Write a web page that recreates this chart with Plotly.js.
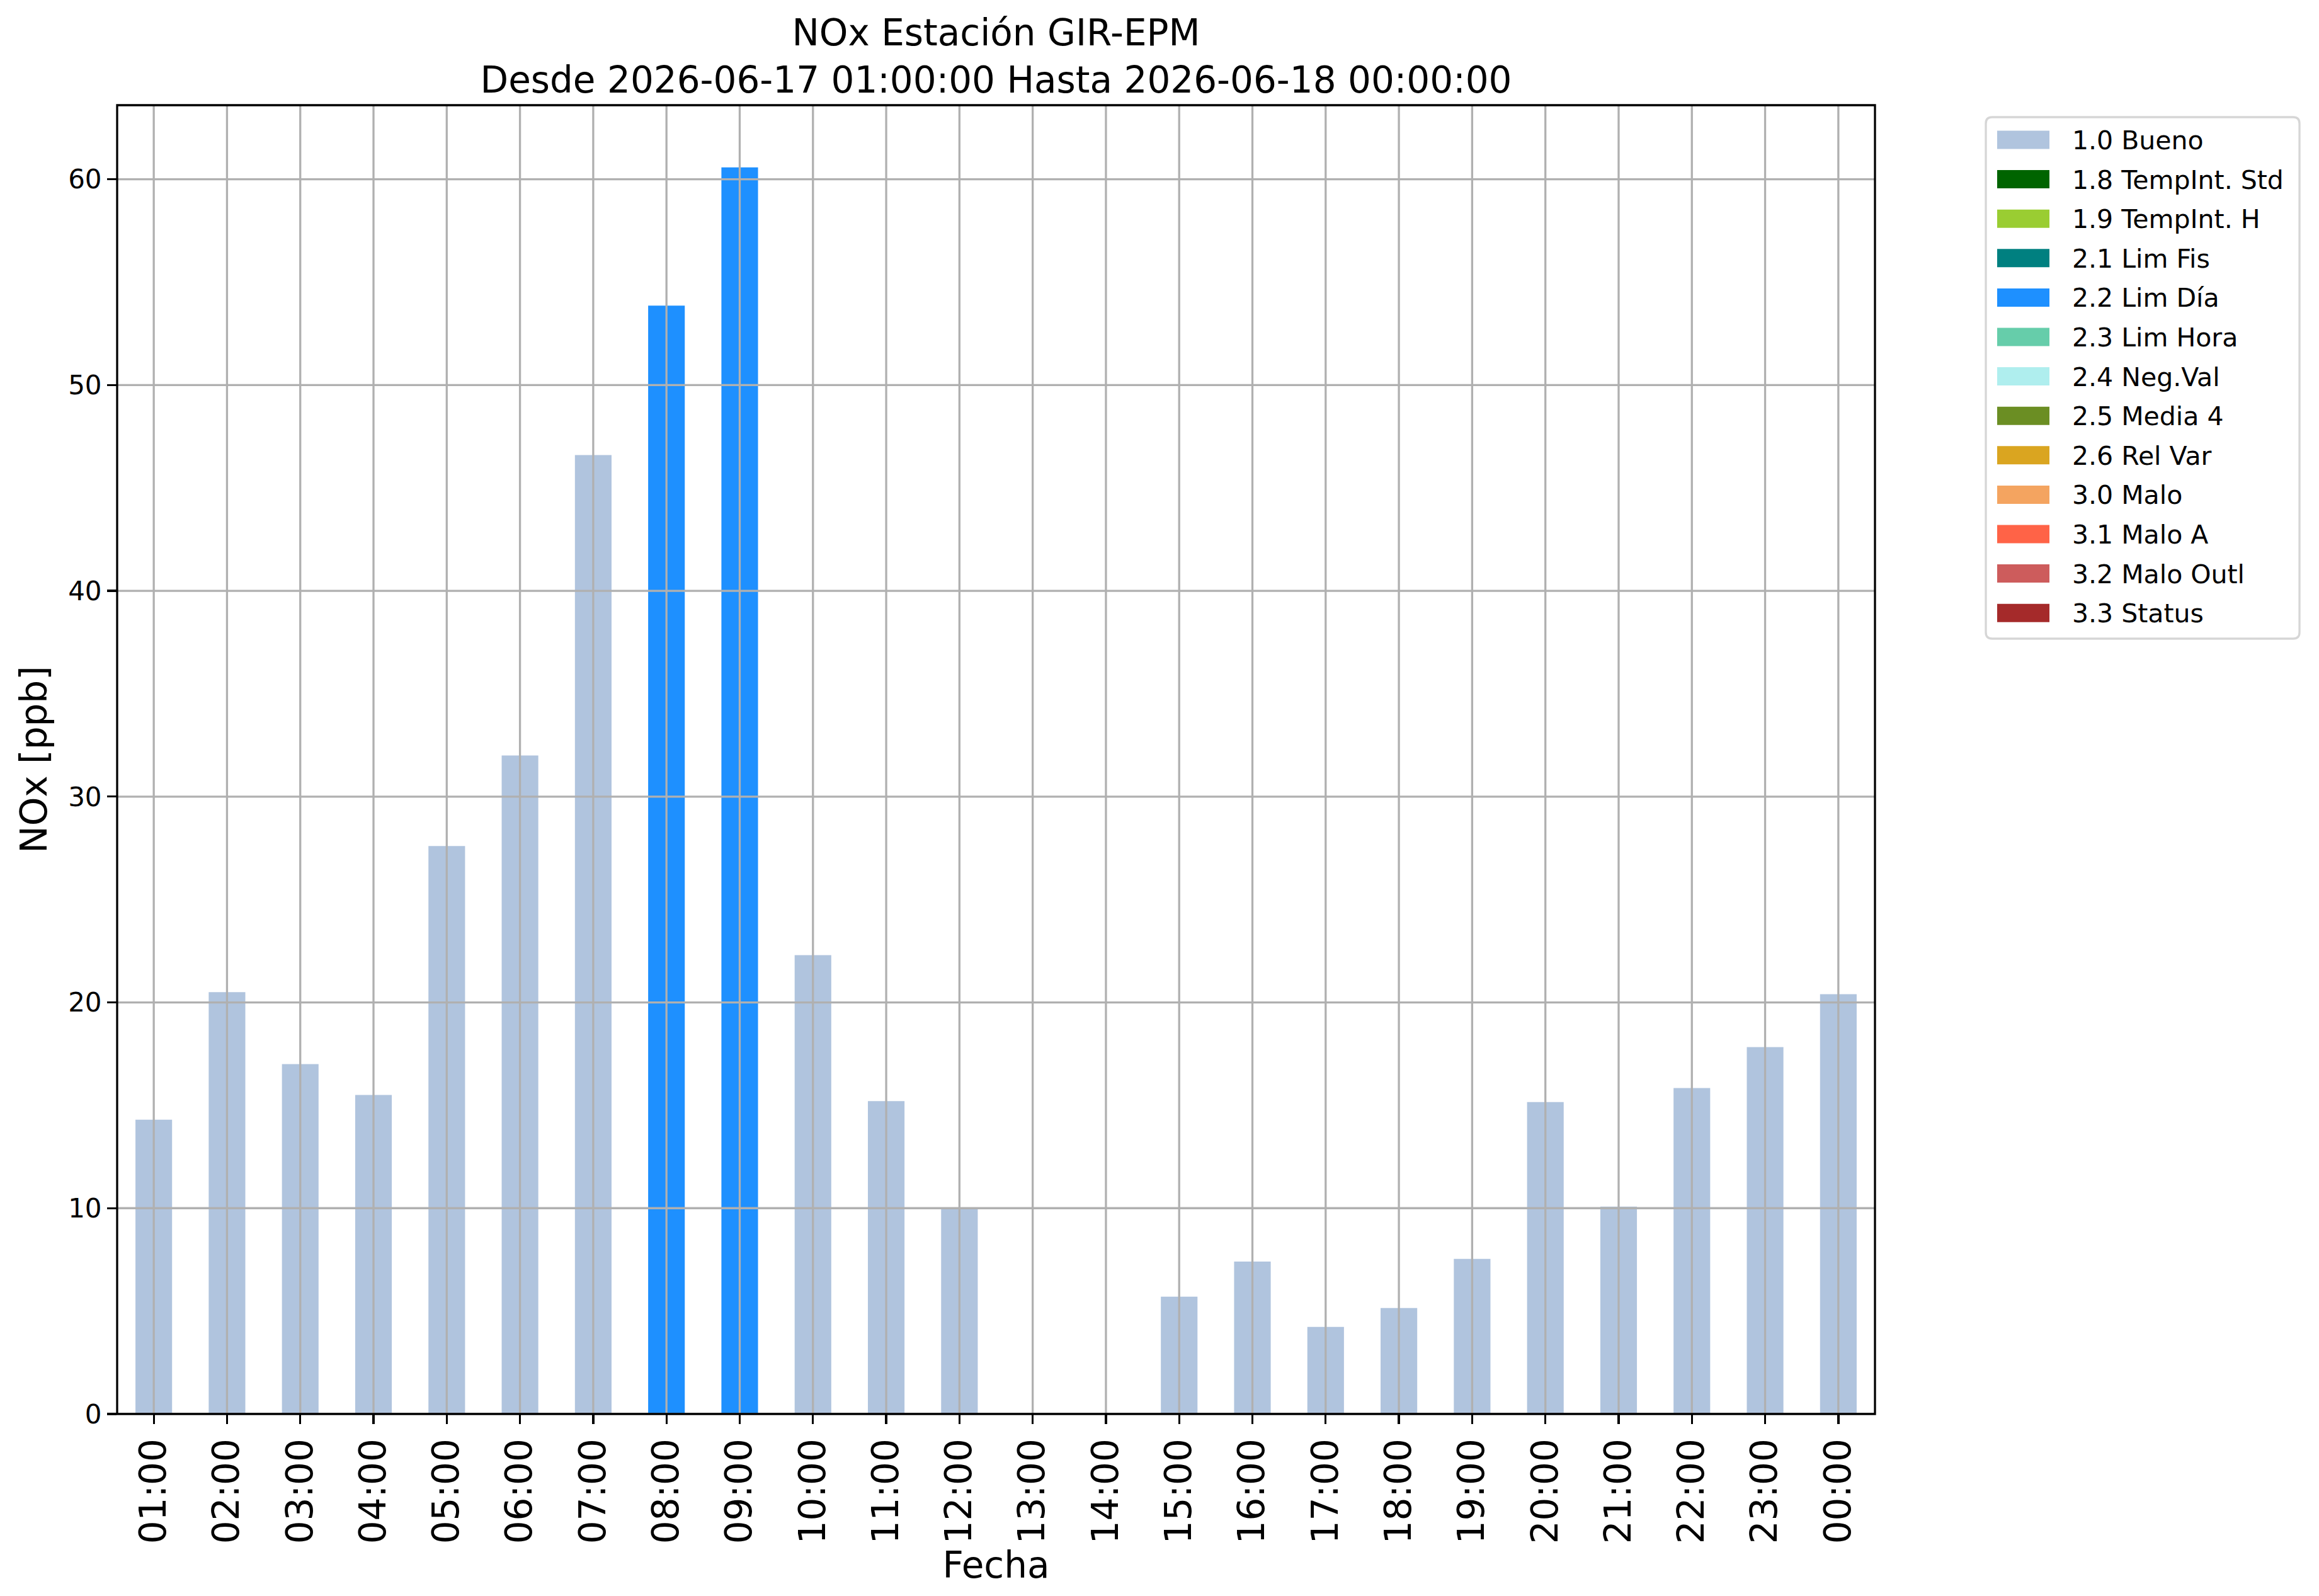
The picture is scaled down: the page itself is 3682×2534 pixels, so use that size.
<!DOCTYPE html>
<html>
<head>
<meta charset="utf-8">
<script src="https://cdn.plot.ly/plotly-3.0.1.min.js"></script>
<style>
  html, body { margin: 0; padding: 0; background: #ffffff; }
  #chart { width: 3682px; height: 2534px; }
</style>
</head>
<body>
<div id="chart"></div>
<script>
// ─── Data ───

const hours = [
  "01:00", "02:00", "03:00", "04:00", "05:00", "06:00", "07:00", "08:00",
  "09:00", "10:00", "11:00", "12:00", "13:00", "14:00", "15:00", "16:00",
  "17:00", "18:00", "19:00", "20:00", "21:00", "22:00", "23:00", "00:00",
];

const noxValues = [
  14.3, 20.5, 17.0, 15.5, 27.6, 32.0, 46.6, 53.86,
  60.58, 22.3, 15.2, 10.0, null, null, 5.7, 7.41,
  4.23, 5.15, 7.54, 15.16, 10.08, 15.84, 17.83, 20.4,
];

const hourFlags = [
  "1.0 Bueno", "1.0 Bueno", "1.0 Bueno", "1.0 Bueno", "1.0 Bueno", "1.0 Bueno",
  "1.0 Bueno", "2.2 Lim Día", "2.2 Lim Día", "1.0 Bueno", "1.0 Bueno", "1.0 Bueno",
  "1.0 Bueno", "1.0 Bueno", "1.0 Bueno", "1.0 Bueno", "1.0 Bueno", "1.0 Bueno",
  "1.0 Bueno", "1.0 Bueno", "1.0 Bueno", "1.0 Bueno", "1.0 Bueno", "1.0 Bueno",
];

const flagNames = [
  "1.0 Bueno", "1.8 TempInt. Std", "1.9 TempInt. H", "2.1 Lim Fis",
  "2.2 Lim Día", "2.3 Lim Hora", "2.4 Neg.Val", "2.5 Media 4",
  "2.6 Rel Var", "3.0 Malo", "3.1 Malo A", "3.2 Malo Outl", "3.3 Status",
];

const flagColors = [
  "#b0c4de", "#006400", "#9acd32", "#008080",
  "#1e90ff", "#66cdaa", "#afeeee", "#6b8e23",
  "#daa520", "#f4a460", "#ff6347", "#cd5c5c", "#a52a2a",
];

const yTicks = [0, 10, 20, 30, 40, 50, 60];

// ─── Geometry (px) ───

const W = 3682, H = 2534;
const L = 186, R = 2977, T = 167, B = 2245;
const px2x = (p) => (p - L) / (R - L);
const px2y = (p) => (B - p) / (B - T);

const FONT = "DejaVu Sans, Verdana, sans-serif";
const GRID = "#b0b0b0";
const LW = 3.3;

// ─── Traces: one bar trace per quality flag ───

const traces = flagNames.map((name, k) => ({
  type: "bar",
  name,
  x: hours.filter((h, i) => hourFlags[i] === name),
  y: noxValues.filter((v, i) => hourFlags[i] === name),
  width: 0.5,
  marker: { color: flagColors[k], line: { width: 0 } },
  showlegend: false,
  hoverinfo: "x+y+name",
}));

// ─── Grid drawn above the bars (matplotlib style) ───

const shapes = [];
hours.forEach((h, i) => {
  shapes.push({
    type: "line", layer: "above",
    xref: "x", yref: "paper", x0: i, x1: i, y0: 0, y1: 1,
    line: { color: GRID, width: LW },
  });
});
yTicks.forEach((v) => {
  shapes.push({
    type: "line", layer: "above",
    xref: "paper", yref: "y", x0: 0, x1: 1, y0: v, y1: v,
    line: { color: GRID, width: LW },
  });
});
// frame
shapes.push({
  type: "rect", layer: "above",
  xref: "paper", yref: "paper", x0: 0, x1: 1, y0: 0, y1: 1,
  line: { color: "#000000", width: LW },
});

// ─── Legend (matplotlib look: wide swatches, rounded box) ───

const annotations = [];
const boxL = 3153, boxR = 3651, boxT = 186, boxB = 1014, rad = 10;
const rp = (x, y) => `${px2x(x)},${px2y(y)}`;
shapes.push({
  type: "path", layer: "above", xref: "paper", yref: "paper",
  path: `M${rp(boxL + rad, boxT)} L${rp(boxR - rad, boxT)} Q${rp(boxR, boxT)} ${rp(boxR, boxT + rad)}` +
        ` L${rp(boxR, boxB - rad)} Q${rp(boxR, boxB)} ${rp(boxR - rad, boxB)}` +
        ` L${rp(boxL + rad, boxB)} Q${rp(boxL, boxB)} ${rp(boxL, boxB - rad)}` +
        ` L${rp(boxL, boxT + rad)} Q${rp(boxL, boxT)} ${rp(boxL + rad, boxT)} Z`,
  fillcolor: "rgba(255,255,255,0.8)",
  line: { color: "#d6d6d6", width: LW },
});
const rowY0 = 222, rowStep = 62.6;
flagNames.forEach((name, k) => {
  const cy = rowY0 + k * rowStep;
  shapes.push({
    type: "rect", layer: "above", xref: "paper", yref: "paper",
    x0: px2x(3171), x1: px2x(3254), y0: px2y(cy + 14.5), y1: px2y(cy - 14.5),
    fillcolor: flagColors[k], line: { width: 0 },
  });
  annotations.push({
    xref: "paper", yref: "paper", x: px2x(3288), y: px2y(cy + 1),
    xanchor: "left", yanchor: "middle", showarrow: false,
    text: name, font: { family: FONT, size: 41, color: "#000000" },
  });
});

// ─── Layout ───

const layout = {
  width: W,
  height: H,
  paper_bgcolor: "#ffffff",
  plot_bgcolor: "#ffffff",
  font: { family: FONT, color: "#000000" },
  margin: { l: L, r: W - R, t: T, b: H - B, pad: 0 },
  barmode: "overlay",
  showlegend: false,
  title: {
    text: "NOx Estación GIR-EPM<br>Desde 2026-06-17 01:00:00 Hasta 2026-06-18 00:00:00",
    font: { family: FONT, size: 58, color: "#000000" },
    x: 0.5, xref: "paper", xanchor: "center",
    y: 1 - 72 / H, yref: "container", yanchor: "top",
  },
  xaxis: {
    type: "category",
    categoryorder: "array",
    categoryarray: hours,
    range: [-0.5, hours.length - 0.5],
    showgrid: false,
    zeroline: false,
    showline: false,
    ticks: "outside",
    ticklen: 15,
    tickwidth: LW,
    tickcolor: "#000000",
    tickangle: -90,
    tickfont: { family: FONT, size: 58, color: "#000000" },
    title: { text: "Fecha", font: { family: FONT, size: 58, color: "#000000" }, standoff: 0 },
    automargin: true,
    fixedrange: true,
  },
  yaxis: {
    range: [0, 63.6],
    tickvals: yTicks,
    ticktext: yTicks.map(String),
    showgrid: false,
    zeroline: false,
    showline: false,
    ticks: "outside",
    ticklen: 15,
    tickwidth: LW,
    tickcolor: "#000000",
    tickfont: { family: FONT, size: 42, color: "#000000" },
    title: { text: "NOx [ppb]", font: { family: FONT, size: 58, color: "#000000" }, standoff: 14 },
    automargin: false,
    fixedrange: true,
  },
  shapes,
  annotations,
};

Plotly.newPlot("chart", traces, layout, { displayModeBar: false, staticPlot: true });
</script>
</body>
</html>
